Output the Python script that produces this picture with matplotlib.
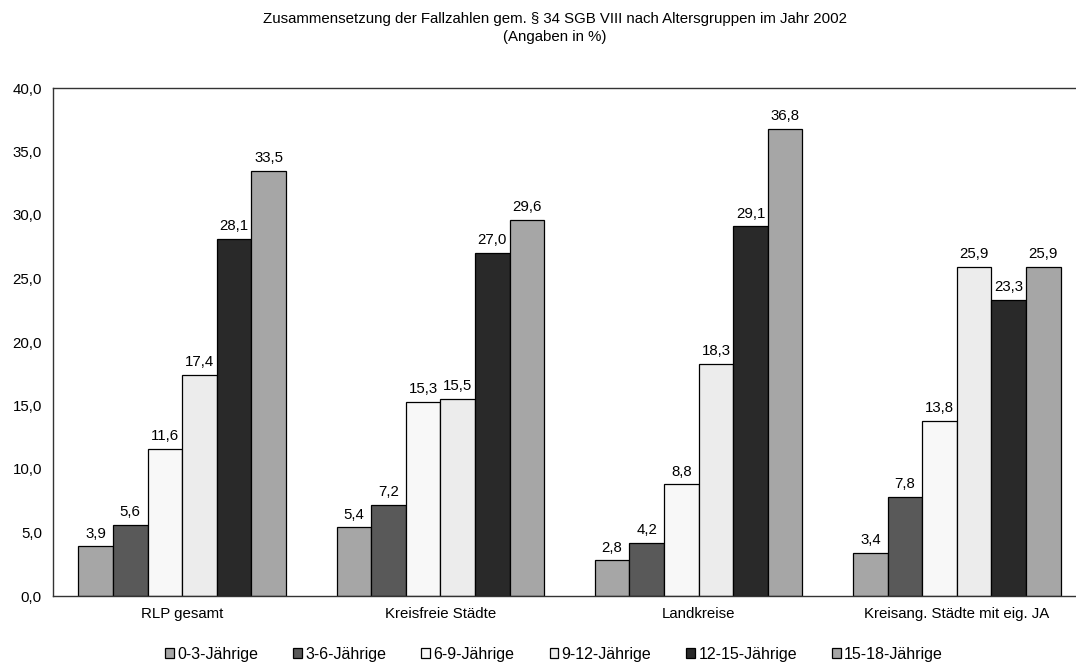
import matplotlib.pyplot as plt
import numpy as np

plt.rcParams['font.family'] = ['Liberation Sans', 'DejaVu Sans']

# data
categories = ['RLP gesamt', 'Kreisfreie Städte', 'Landkreise', 'Kreisang. Städte mit eig. JA']
age_groups = ['0-3-Jährige', '3-6-Jährige', '6-9-Jährige', '9-12-Jährige', '12-15-Jährige', '15-18-Jährige']
values_0_3 = [3.9, 5.4, 2.8, 3.4]
values_3_6 = [5.6, 7.2, 4.2, 7.8]
values_6_9 = [11.6, 15.3, 8.8, 13.8]
values_9_12 = [17.4, 15.5, 18.3, 25.9]
values_12_15 = [28.1, 27.0, 29.1, 23.3]
values_15_18 = [33.5, 29.6, 36.8, 25.9]
series = [values_0_3, values_3_6, values_6_9, values_9_12, values_12_15, values_15_18]
colors = ['#a6a6a6', '#595959', '#f8f8f8', '#ececec', '#292929', '#a6a6a6']

fig = plt.figure(figsize=(10.76, 6.62), dpi=100)
ax = fig.add_axes([53 / 1076, 66 / 662, 1033 / 1076, 508 / 662])

x = np.arange(len(categories))
width = 0.134
for i, (vals, col) in enumerate(zip(series, colors)):
    pos = x + (i - 2.5) * width
    bars = ax.bar(pos, vals, width, color=col, edgecolor='black', linewidth=0.9,
                  label=age_groups[i])
    for b, v in zip(bars, vals):
        ax.text(b.get_x() + b.get_width() / 2, v + 0.45, f'{v:.1f}'.replace('.', ','),
                ha='center', va='bottom', fontsize=10.8)

ax.set_xlim(-0.5, len(categories) - 0.5)
ax.set_ylim(0, 40)
ax.set_yticks(np.arange(0, 41, 5))
ax.set_yticklabels([f'{t:.1f}'.replace('.', ',') for t in np.arange(0, 41, 5)], fontsize=10.8)
ax.set_xticks(x)
ax.set_xticklabels(categories, fontsize=10.8)
ax.tick_params(axis='both', length=0, pad=8)
ax.spines['right'].set_visible(False)
for s in ['left', 'bottom', 'top']:
    ax.spines[s].set_color('#333333')
    ax.spines[s].set_linewidth(1.0)

fig.text(0.516, 0.972, 'Zusammensetzung der Fallzahlen gem. § 34 SGB VIII nach Altersgruppen im Jahr 2002',
         ha='center', va='center', fontsize=10.8)
fig.text(0.516, 0.944, '(Angaben in %)', ha='center', va='center', fontsize=10.8)

fig.legend(loc='center', bbox_to_anchor=(0.515, 0.012), ncol=6, frameon=False,
           fontsize=11.5, handlelength=0.55, handleheight=0.55, handletextpad=0.2,
           columnspacing=2.2)

fig.savefig('out.png', dpi=100)
